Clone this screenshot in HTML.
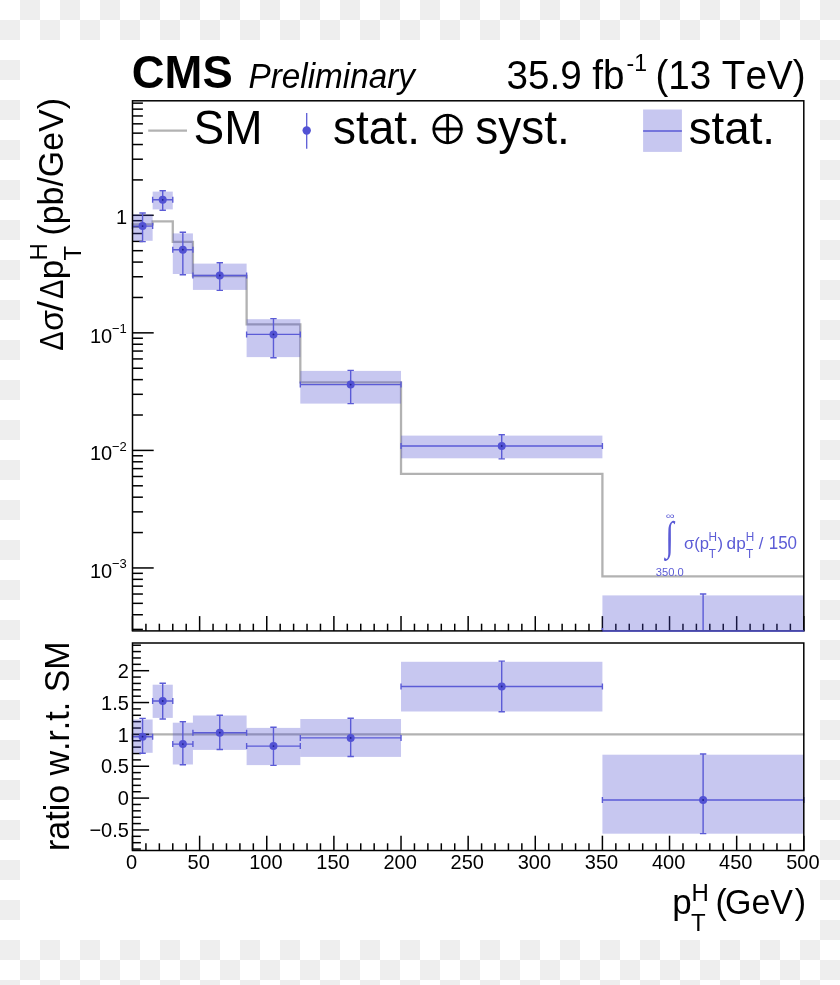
<!DOCTYPE html>
<html lang="en"><head><meta charset="utf-8"><title>CMS Preliminary - differential cross section</title>
<style>
html,body{margin:0;padding:0;}
body{width:840px;height:985px;overflow:hidden;background-color:#fff;
background-image:repeating-conic-gradient(#eeeeee 0% 25%,#ffffff 0% 50%);background-size:40px 40px;background-position:0 0;position:relative;font-family:"Liberation Sans",sans-serif;}
#panel{position:absolute;left:20px;top:40px;width:800px;height:900px;background:#fff;}
svg{position:absolute;left:0;top:0;will-change:transform;}
svg text{font-family:"Liberation Sans",sans-serif;font-kerning:none;}
</style></head><body>
<div id="panel"></div>
<svg width="840" height="985" viewBox="0 0 840 985">
<polyline fill="none" stroke="#b2b2b2" stroke-width="2.3" points="132.5,224.3 152.64,224.3 152.64,221.4 172.78,221.4 172.78,241.9 192.92,241.9 192.92,276 246.62,276 246.62,324.3 300.32,324.3 300.32,382.4 401.02,382.4 401.02,473.9 602.41,473.9 602.41,576.3 803.8,576.3"/>
<line x1="132.5" y1="734.3" x2="804.3" y2="734.3" stroke="#b2b2b2" stroke-width="2.3"/>
<g stroke="#000" stroke-width="1.5">
<line x1="132.5" y1="629.41" x2="142.9" y2="629.41"/>
<line x1="132.5" y1="614.73" x2="142.9" y2="614.73"/>
<line x1="132.5" y1="603.34" x2="142.9" y2="603.34"/>
<line x1="132.5" y1="594.03" x2="142.9" y2="594.03"/>
<line x1="132.5" y1="586.16" x2="142.9" y2="586.16"/>
<line x1="132.5" y1="579.34" x2="142.9" y2="579.34"/>
<line x1="132.5" y1="573.33" x2="142.9" y2="573.33"/>
<line x1="132.5" y1="567.95" x2="153.7" y2="567.95"/>
<line x1="132.5" y1="532.56" x2="142.9" y2="532.56"/>
<line x1="132.5" y1="511.86" x2="142.9" y2="511.86"/>
<line x1="132.5" y1="497.18" x2="142.9" y2="497.18"/>
<line x1="132.5" y1="485.79" x2="142.9" y2="485.79"/>
<line x1="132.5" y1="476.48" x2="142.9" y2="476.48"/>
<line x1="132.5" y1="468.61" x2="142.9" y2="468.61"/>
<line x1="132.5" y1="461.79" x2="142.9" y2="461.79"/>
<line x1="132.5" y1="455.78" x2="142.9" y2="455.78"/>
<line x1="132.5" y1="450.4" x2="153.7" y2="450.4"/>
<line x1="132.5" y1="415.01" x2="142.9" y2="415.01"/>
<line x1="132.5" y1="394.31" x2="142.9" y2="394.31"/>
<line x1="132.5" y1="379.63" x2="142.9" y2="379.63"/>
<line x1="132.5" y1="368.24" x2="142.9" y2="368.24"/>
<line x1="132.5" y1="358.93" x2="142.9" y2="358.93"/>
<line x1="132.5" y1="351.06" x2="142.9" y2="351.06"/>
<line x1="132.5" y1="344.24" x2="142.9" y2="344.24"/>
<line x1="132.5" y1="338.23" x2="142.9" y2="338.23"/>
<line x1="132.5" y1="332.85" x2="153.7" y2="332.85"/>
<line x1="132.5" y1="297.46" x2="142.9" y2="297.46"/>
<line x1="132.5" y1="276.76" x2="142.9" y2="276.76"/>
<line x1="132.5" y1="262.08" x2="142.9" y2="262.08"/>
<line x1="132.5" y1="250.69" x2="142.9" y2="250.69"/>
<line x1="132.5" y1="241.38" x2="142.9" y2="241.38"/>
<line x1="132.5" y1="233.51" x2="142.9" y2="233.51"/>
<line x1="132.5" y1="226.69" x2="142.9" y2="226.69"/>
<line x1="132.5" y1="220.68" x2="142.9" y2="220.68"/>
<line x1="132.5" y1="215.3" x2="153.7" y2="215.3"/>
<line x1="132.5" y1="179.91" x2="142.9" y2="179.91"/>
<line x1="132.5" y1="159.21" x2="142.9" y2="159.21"/>
<line x1="132.5" y1="144.53" x2="142.9" y2="144.53"/>
<line x1="132.5" y1="133.14" x2="142.9" y2="133.14"/>
<line x1="132.5" y1="123.83" x2="142.9" y2="123.83"/>
<line x1="132.5" y1="115.96" x2="142.9" y2="115.96"/>
<line x1="132.5" y1="109.14" x2="142.9" y2="109.14"/>
<line x1="132.5" y1="103.13" x2="142.9" y2="103.13"/>
<line x1="132.5" y1="630.9" x2="132.5" y2="616.1"/>
<line x1="132.5" y1="850.5" x2="132.5" y2="835.7"/>
<line x1="145.93" y1="630.9" x2="145.93" y2="623.7"/>
<line x1="145.93" y1="850.5" x2="145.93" y2="843.3"/>
<line x1="159.35" y1="630.9" x2="159.35" y2="623.7"/>
<line x1="159.35" y1="850.5" x2="159.35" y2="843.3"/>
<line x1="172.78" y1="630.9" x2="172.78" y2="623.7"/>
<line x1="172.78" y1="850.5" x2="172.78" y2="843.3"/>
<line x1="186.2" y1="630.9" x2="186.2" y2="623.7"/>
<line x1="186.2" y1="850.5" x2="186.2" y2="843.3"/>
<line x1="199.63" y1="630.9" x2="199.63" y2="616.1"/>
<line x1="199.63" y1="850.5" x2="199.63" y2="835.7"/>
<line x1="213.06" y1="630.9" x2="213.06" y2="623.7"/>
<line x1="213.06" y1="850.5" x2="213.06" y2="843.3"/>
<line x1="226.48" y1="630.9" x2="226.48" y2="623.7"/>
<line x1="226.48" y1="850.5" x2="226.48" y2="843.3"/>
<line x1="239.91" y1="630.9" x2="239.91" y2="623.7"/>
<line x1="239.91" y1="850.5" x2="239.91" y2="843.3"/>
<line x1="253.33" y1="630.9" x2="253.33" y2="623.7"/>
<line x1="253.33" y1="850.5" x2="253.33" y2="843.3"/>
<line x1="266.76" y1="630.9" x2="266.76" y2="616.1"/>
<line x1="266.76" y1="850.5" x2="266.76" y2="835.7"/>
<line x1="280.19" y1="630.9" x2="280.19" y2="623.7"/>
<line x1="280.19" y1="850.5" x2="280.19" y2="843.3"/>
<line x1="293.61" y1="630.9" x2="293.61" y2="623.7"/>
<line x1="293.61" y1="850.5" x2="293.61" y2="843.3"/>
<line x1="307.04" y1="630.9" x2="307.04" y2="623.7"/>
<line x1="307.04" y1="850.5" x2="307.04" y2="843.3"/>
<line x1="320.46" y1="630.9" x2="320.46" y2="623.7"/>
<line x1="320.46" y1="850.5" x2="320.46" y2="843.3"/>
<line x1="333.89" y1="630.9" x2="333.89" y2="616.1"/>
<line x1="333.89" y1="850.5" x2="333.89" y2="835.7"/>
<line x1="347.32" y1="630.9" x2="347.32" y2="623.7"/>
<line x1="347.32" y1="850.5" x2="347.32" y2="843.3"/>
<line x1="360.74" y1="630.9" x2="360.74" y2="623.7"/>
<line x1="360.74" y1="850.5" x2="360.74" y2="843.3"/>
<line x1="374.17" y1="630.9" x2="374.17" y2="623.7"/>
<line x1="374.17" y1="850.5" x2="374.17" y2="843.3"/>
<line x1="387.59" y1="630.9" x2="387.59" y2="623.7"/>
<line x1="387.59" y1="850.5" x2="387.59" y2="843.3"/>
<line x1="401.02" y1="630.9" x2="401.02" y2="616.1"/>
<line x1="401.02" y1="850.5" x2="401.02" y2="835.7"/>
<line x1="414.45" y1="630.9" x2="414.45" y2="623.7"/>
<line x1="414.45" y1="850.5" x2="414.45" y2="843.3"/>
<line x1="427.87" y1="630.9" x2="427.87" y2="623.7"/>
<line x1="427.87" y1="850.5" x2="427.87" y2="843.3"/>
<line x1="441.3" y1="630.9" x2="441.3" y2="623.7"/>
<line x1="441.3" y1="850.5" x2="441.3" y2="843.3"/>
<line x1="454.72" y1="630.9" x2="454.72" y2="623.7"/>
<line x1="454.72" y1="850.5" x2="454.72" y2="843.3"/>
<line x1="468.15" y1="630.9" x2="468.15" y2="616.1"/>
<line x1="468.15" y1="850.5" x2="468.15" y2="835.7"/>
<line x1="481.58" y1="630.9" x2="481.58" y2="623.7"/>
<line x1="481.58" y1="850.5" x2="481.58" y2="843.3"/>
<line x1="495" y1="630.9" x2="495" y2="623.7"/>
<line x1="495" y1="850.5" x2="495" y2="843.3"/>
<line x1="508.43" y1="630.9" x2="508.43" y2="623.7"/>
<line x1="508.43" y1="850.5" x2="508.43" y2="843.3"/>
<line x1="521.85" y1="630.9" x2="521.85" y2="623.7"/>
<line x1="521.85" y1="850.5" x2="521.85" y2="843.3"/>
<line x1="535.28" y1="630.9" x2="535.28" y2="616.1"/>
<line x1="535.28" y1="850.5" x2="535.28" y2="835.7"/>
<line x1="548.71" y1="630.9" x2="548.71" y2="623.7"/>
<line x1="548.71" y1="850.5" x2="548.71" y2="843.3"/>
<line x1="562.13" y1="630.9" x2="562.13" y2="623.7"/>
<line x1="562.13" y1="850.5" x2="562.13" y2="843.3"/>
<line x1="575.56" y1="630.9" x2="575.56" y2="623.7"/>
<line x1="575.56" y1="850.5" x2="575.56" y2="843.3"/>
<line x1="588.98" y1="630.9" x2="588.98" y2="623.7"/>
<line x1="588.98" y1="850.5" x2="588.98" y2="843.3"/>
<line x1="602.41" y1="630.9" x2="602.41" y2="616.1"/>
<line x1="602.41" y1="850.5" x2="602.41" y2="835.7"/>
<line x1="615.84" y1="630.9" x2="615.84" y2="623.7"/>
<line x1="615.84" y1="850.5" x2="615.84" y2="843.3"/>
<line x1="629.26" y1="630.9" x2="629.26" y2="623.7"/>
<line x1="629.26" y1="850.5" x2="629.26" y2="843.3"/>
<line x1="642.69" y1="630.9" x2="642.69" y2="623.7"/>
<line x1="642.69" y1="850.5" x2="642.69" y2="843.3"/>
<line x1="656.11" y1="630.9" x2="656.11" y2="623.7"/>
<line x1="656.11" y1="850.5" x2="656.11" y2="843.3"/>
<line x1="669.54" y1="630.9" x2="669.54" y2="616.1"/>
<line x1="669.54" y1="850.5" x2="669.54" y2="835.7"/>
<line x1="682.97" y1="630.9" x2="682.97" y2="623.7"/>
<line x1="682.97" y1="850.5" x2="682.97" y2="843.3"/>
<line x1="696.39" y1="630.9" x2="696.39" y2="623.7"/>
<line x1="696.39" y1="850.5" x2="696.39" y2="843.3"/>
<line x1="709.82" y1="630.9" x2="709.82" y2="623.7"/>
<line x1="709.82" y1="850.5" x2="709.82" y2="843.3"/>
<line x1="723.24" y1="630.9" x2="723.24" y2="623.7"/>
<line x1="723.24" y1="850.5" x2="723.24" y2="843.3"/>
<line x1="736.67" y1="630.9" x2="736.67" y2="616.1"/>
<line x1="736.67" y1="850.5" x2="736.67" y2="835.7"/>
<line x1="750.1" y1="630.9" x2="750.1" y2="623.7"/>
<line x1="750.1" y1="850.5" x2="750.1" y2="843.3"/>
<line x1="763.52" y1="630.9" x2="763.52" y2="623.7"/>
<line x1="763.52" y1="850.5" x2="763.52" y2="843.3"/>
<line x1="776.95" y1="630.9" x2="776.95" y2="623.7"/>
<line x1="776.95" y1="850.5" x2="776.95" y2="843.3"/>
<line x1="790.37" y1="630.9" x2="790.37" y2="623.7"/>
<line x1="790.37" y1="850.5" x2="790.37" y2="843.3"/>
<line x1="803.8" y1="630.9" x2="803.8" y2="616.1"/>
<line x1="803.8" y1="850.5" x2="803.8" y2="835.7"/>
<line x1="132.5" y1="849.06" x2="140.9" y2="849.06"/>
<line x1="132.5" y1="842.69" x2="140.9" y2="842.69"/>
<line x1="132.5" y1="836.32" x2="140.9" y2="836.32"/>
<line x1="132.5" y1="829.95" x2="149.1" y2="829.95"/>
<line x1="132.5" y1="823.58" x2="140.9" y2="823.58"/>
<line x1="132.5" y1="817.21" x2="140.9" y2="817.21"/>
<line x1="132.5" y1="810.84" x2="140.9" y2="810.84"/>
<line x1="132.5" y1="804.47" x2="140.9" y2="804.47"/>
<line x1="132.5" y1="798.1" x2="149.1" y2="798.1"/>
<line x1="132.5" y1="791.73" x2="140.9" y2="791.73"/>
<line x1="132.5" y1="785.36" x2="140.9" y2="785.36"/>
<line x1="132.5" y1="778.99" x2="140.9" y2="778.99"/>
<line x1="132.5" y1="772.62" x2="140.9" y2="772.62"/>
<line x1="132.5" y1="766.25" x2="149.1" y2="766.25"/>
<line x1="132.5" y1="759.88" x2="140.9" y2="759.88"/>
<line x1="132.5" y1="753.51" x2="140.9" y2="753.51"/>
<line x1="132.5" y1="747.14" x2="140.9" y2="747.14"/>
<line x1="132.5" y1="740.77" x2="140.9" y2="740.77"/>
<line x1="132.5" y1="734.4" x2="149.1" y2="734.4"/>
<line x1="132.5" y1="728.03" x2="140.9" y2="728.03"/>
<line x1="132.5" y1="721.66" x2="140.9" y2="721.66"/>
<line x1="132.5" y1="715.29" x2="140.9" y2="715.29"/>
<line x1="132.5" y1="708.92" x2="140.9" y2="708.92"/>
<line x1="132.5" y1="702.55" x2="149.1" y2="702.55"/>
<line x1="132.5" y1="696.18" x2="140.9" y2="696.18"/>
<line x1="132.5" y1="689.81" x2="140.9" y2="689.81"/>
<line x1="132.5" y1="683.44" x2="140.9" y2="683.44"/>
<line x1="132.5" y1="677.07" x2="140.9" y2="677.07"/>
<line x1="132.5" y1="670.7" x2="149.1" y2="670.7"/>
<line x1="132.5" y1="664.33" x2="140.9" y2="664.33"/>
<line x1="132.5" y1="657.96" x2="140.9" y2="657.96"/>
<line x1="132.5" y1="651.59" x2="140.9" y2="651.59"/>
<line x1="132.5" y1="645.22" x2="140.9" y2="645.22"/>
</g>
<g fill-opacity="0.31">
<rect x="132.5" y="214.4" width="20.14" height="26.4" fill="#4a4ad0"/>
<rect x="152.64" y="191.6" width="20.14" height="17.8" fill="#4a4ad0"/>
<rect x="172.78" y="233.4" width="20.14" height="40.6" fill="#4a4ad0"/>
<rect x="192.92" y="263.6" width="53.7" height="26.3" fill="#4a4ad0"/>
<rect x="246.62" y="319.2" width="53.7" height="37.9" fill="#4a4ad0"/>
<rect x="300.32" y="370.9" width="100.69" height="32.7" fill="#4a4ad0"/>
<rect x="401.02" y="435.6" width="201.39" height="22.7" fill="#4a4ad0"/>
<rect x="602.41" y="595.4" width="201.39" height="35.5" fill="#4a4ad0"/>
<rect x="132.5" y="719.5" width="20.14" height="33.3" fill="#4a4ad0"/>
<rect x="152.64" y="684.7" width="20.14" height="33.2" fill="#4a4ad0"/>
<rect x="172.78" y="722.7" width="20.14" height="41.8" fill="#4a4ad0"/>
<rect x="192.92" y="715.5" width="53.7" height="34.4" fill="#4a4ad0"/>
<rect x="246.62" y="727.9" width="53.7" height="37.2" fill="#4a4ad0"/>
<rect x="300.32" y="719" width="100.69" height="37.9" fill="#4a4ad0"/>
<rect x="401.02" y="661.8" width="201.39" height="49.7" fill="#4a4ad0"/>
<rect x="602.41" y="754.7" width="201.39" height="79" fill="#4a4ad0"/>
</g>
<clipPath id="cm"><rect x="0" y="0" width="840" height="631.6"/></clipPath>
<g clip-path="url(#cm)">
<g stroke="#5b5bd6" stroke-width="1.4" fill="none">
<path d="M132.5 226.1H152.64M132.5 223.1v6M152.64 223.1v6M142.57 213V241.6M139.37 213h6.4M139.37 241.6h6.4"/>
<path d="M152.64 199.8H172.78M152.64 196.8v6M172.78 196.8v6M162.71 190.8V210.2M159.51 190.8h6.4M159.51 210.2h6.4"/>
<path d="M172.78 249.7H192.92M172.78 246.7v6M192.92 246.7v6M182.85 232.3V274.7M179.65 232.3h6.4M179.65 274.7h6.4"/>
<path d="M192.92 275.5H246.62M192.92 272.5v6M246.62 272.5v6M219.77 262.8V290.4M216.57 262.8h6.4M216.57 290.4h6.4"/>
<path d="M246.62 334.4H300.32M246.62 331.4v6M300.32 331.4v6M273.47 318.6V357.7M270.27 318.6h6.4M270.27 357.7h6.4"/>
<path d="M300.32 384.6H401.02M300.32 381.6v6M401.02 381.6v6M350.67 370.4V403.6M347.47 370.4h6.4M347.47 403.6h6.4"/>
<path d="M401.02 446H602.41M401.02 443v6M602.41 443v6M501.72 434.8V458.9M498.52 434.8h6.4M498.52 458.9h6.4"/>
<path d="M602.41 630.9H803.8M602.41 627.9v6M803.8 627.9v6M703.11 594V630.9M699.9 594h6.4M699.9 630.9h6.4"/>
</g>
<g fill="#5252d4">
<circle cx="142.57" cy="226.1" r="4.0"/>
<circle cx="162.71" cy="199.8" r="4.0"/>
<circle cx="182.85" cy="249.7" r="4.0"/>
<circle cx="219.77" cy="275.5" r="4.0"/>
<circle cx="273.47" cy="334.4" r="4.0"/>
<circle cx="350.67" cy="384.6" r="4.0"/>
<circle cx="501.72" cy="446" r="4.0"/>
</g>
<g fill="#1f1f8c">
<circle cx="142.57" cy="226.1" r="0.9"/>
<circle cx="162.71" cy="199.8" r="0.9"/>
<circle cx="182.85" cy="249.7" r="0.9"/>
<circle cx="219.77" cy="275.5" r="0.9"/>
<circle cx="273.47" cy="334.4" r="0.9"/>
<circle cx="350.67" cy="384.6" r="0.9"/>
<circle cx="501.72" cy="446" r="0.9"/>
</g>
</g>
<g stroke="#5b5bd6" stroke-width="1.4" fill="none">
<path d="M132.5 736.7H152.64M132.5 733.7v6M152.64 733.7v6M142.57 718.4V753.3M139.37 718.4h6.4M139.37 753.3h6.4"/>
<path d="M152.64 701H172.78M152.64 698v6M172.78 698v6M162.71 683.3V719M159.51 683.3h6.4M159.51 719h6.4"/>
<path d="M172.78 744.1H192.92M172.78 741.1v6M192.92 741.1v6M182.85 721.8V764.7M179.65 721.8h6.4M179.65 764.7h6.4"/>
<path d="M192.92 732.7H246.62M192.92 729.7v6M246.62 729.7v6M219.77 715.3V749.5M216.57 715.3h6.4M216.57 749.5h6.4"/>
<path d="M246.62 746.1H300.32M246.62 743.1v6M300.32 743.1v6M273.47 727.2V765.4M270.27 727.2h6.4M270.27 765.4h6.4"/>
<path d="M300.32 737.9H401.02M300.32 734.9v6M401.02 734.9v6M350.67 718.3V756.5M347.47 718.3h6.4M347.47 756.5h6.4"/>
<path d="M401.02 686.5H602.41M401.02 683.5v6M602.41 683.5v6M501.72 661.1V711.8M498.52 661.1h6.4M498.52 711.8h6.4"/>
<path d="M602.41 800H803.8M602.41 797v6M803.8 797v6M703.11 754V833.6M699.9 754h6.4M699.9 833.6h6.4"/>
</g>
<g fill="#5252d4">
<circle cx="142.57" cy="736.7" r="4.0"/>
<circle cx="162.71" cy="701" r="4.0"/>
<circle cx="182.85" cy="744.1" r="4.0"/>
<circle cx="219.77" cy="732.7" r="4.0"/>
<circle cx="273.47" cy="746.1" r="4.0"/>
<circle cx="350.67" cy="737.9" r="4.0"/>
<circle cx="501.72" cy="686.5" r="4.0"/>
<circle cx="703.11" cy="800" r="4.0"/>
</g>
<g fill="#1f1f8c">
<circle cx="142.57" cy="736.7" r="0.9"/>
<circle cx="162.71" cy="701" r="0.9"/>
<circle cx="182.85" cy="744.1" r="0.9"/>
<circle cx="219.77" cy="732.7" r="0.9"/>
<circle cx="273.47" cy="746.1" r="0.9"/>
<circle cx="350.67" cy="737.9" r="0.9"/>
<circle cx="501.72" cy="686.5" r="0.9"/>
<circle cx="703.11" cy="800" r="0.9"/>
</g>
<rect x="132.5" y="100.8" width="671.3" height="530.1" fill="none" stroke="#000" stroke-width="1.5"/>
<rect x="132.5" y="643.0" width="671.3" height="207.5" fill="none" stroke="#000" stroke-width="1.5"/>
<line x1="602.41" y1="630.9" x2="803.8" y2="630.9" stroke="#5b5bd6" stroke-width="1.5"/>
<line x1="148.2" y1="130.6" x2="187" y2="130.6" stroke="#b2b2b2" stroke-width="2.3"/>
<text transform="translate(193.6 144.2) scale(1 1.03)" font-size="46">SM</text>
<line x1="306.7" y1="113" x2="306.7" y2="148.8" stroke="#5b5bd6" stroke-width="1.3"/>
<circle cx="306.7" cy="130.5" r="4.2" fill="#5252d4"/>
<text transform="translate(333 144.2) scale(1 1.03)" font-size="46">stat.</text>
<text x="426.44" y="144.75" font-size="50.56" stroke="#fff" stroke-width="1.1" style="font-family:'DejaVu Serif','DejaVu Sans',serif">⊕</text>
<text transform="translate(475.3 144.2) scale(1 1.03)" font-size="46">syst.</text>
<rect x="643.1" y="109.5" width="38.8" height="42.4" fill="#4a4ad0" fill-opacity="0.31"/>
<line x1="643.1" y1="131" x2="681.9" y2="131" stroke="#5b5bd6" stroke-width="1.3"/>
<text transform="translate(688.7 144.2) scale(1 1.03)" font-size="45.7">stat.</text>
<text transform="translate(131.8 88.1) scale(1 1.01)" font-size="45.4" font-weight="bold">CMS</text>
<text transform="translate(248.5 88.1) scale(1 1.03)" font-size="33.3" font-style="italic">Preliminary</text>
<text transform="translate(506.5 89.2) scale(1 1.03)" font-size="38.6">35.9 fb</text>
<text transform="translate(626.5 71.2) scale(1 1.03)" font-size="23">-1</text>
<text transform="translate(805.5 89.2) scale(1 1.03)" font-size="38.6" text-anchor="end">(13 TeV)</text>
<text transform="translate(131.6 869) scale(1 1.03)" font-size="20" text-anchor="middle">0</text>
<text transform="translate(198.73 869) scale(1 1.03)" font-size="20" text-anchor="middle">50</text>
<text transform="translate(265.86 869) scale(1 1.03)" font-size="20" text-anchor="middle">100</text>
<text transform="translate(332.99 869) scale(1 1.03)" font-size="20" text-anchor="middle">150</text>
<text transform="translate(400.12 869) scale(1 1.03)" font-size="20" text-anchor="middle">200</text>
<text transform="translate(467.25 869) scale(1 1.03)" font-size="20" text-anchor="middle">250</text>
<text transform="translate(534.38 869) scale(1 1.03)" font-size="20" text-anchor="middle">300</text>
<text transform="translate(601.51 869) scale(1 1.03)" font-size="20" text-anchor="middle">350</text>
<text transform="translate(668.64 869) scale(1 1.03)" font-size="20" text-anchor="middle">400</text>
<text transform="translate(735.77 869) scale(1 1.03)" font-size="20" text-anchor="middle">450</text>
<text transform="translate(802.9 869) scale(1 1.03)" font-size="20" text-anchor="middle">500</text>
<text transform="translate(128.9 677.9) scale(1 1.03)" font-size="20" text-anchor="end">2</text>
<text transform="translate(128.9 709.75) scale(1 1.03)" font-size="20" text-anchor="end">1.5</text>
<text transform="translate(128.9 741.6) scale(1 1.03)" font-size="20" text-anchor="end">1</text>
<text transform="translate(128.9 773.45) scale(1 1.03)" font-size="20" text-anchor="end">0.5</text>
<text transform="translate(128.9 805.3) scale(1 1.03)" font-size="20" text-anchor="end">0</text>
<text transform="translate(128.9 837.15) scale(1 1.03)" font-size="20" text-anchor="end">−0.5</text>
<text transform="translate(127.2 223.6) scale(1 1.03)" font-size="20" text-anchor="end">1</text>
<text transform="translate(90 342.65) scale(1 1.03)" font-size="20">10<tspan font-size="13" dy="-9.2" dx="-0.3">−1</tspan></text>
<text transform="translate(90 460.2) scale(1 1.03)" font-size="20">10<tspan font-size="13" dy="-9.2" dx="-0.3">−2</tspan></text>
<text transform="translate(90 577.75) scale(1 1.03)" font-size="20">10<tspan font-size="13" dy="-9.2" dx="-0.3">−3</tspan></text>
<text transform="translate(62.7 350) rotate(-90) translate(-0.87 0) scale(0.855 0.975)" font-size="34">Δ</text>
<text transform="translate(62.7 350) rotate(-90) translate(18.97 0)" font-size="34">σ</text>
<text transform="translate(62.7 350) rotate(-90) translate(38.4 0) scale(1.1 1.03)" font-size="34">/</text>
<text transform="translate(62.7 350) rotate(-90) translate(50.93 0) scale(0.855 0.975)" font-size="34">Δ</text>
<text transform="translate(62.7 350) rotate(-90) translate(70.86 0)" font-size="35">p</text>
<text transform="translate(62.7 350) rotate(-90) translate(89.43 -15.7) scale(1 1.03)" font-size="24">H</text>
<text transform="translate(62.7 350) rotate(-90) translate(89.47 18.4) scale(1 1.03)" font-size="24">T</text>
<text transform="translate(62.7 350) rotate(-90) translate(114.4 0) scale(1 1.03)" font-size="33.9">(pb/GeV)</text>
<text transform="translate(69 851) rotate(-90) scale(1 1.03)" font-size="34">ratio w.r.t. SM</text>
<text transform="translate(0 913.9) translate(672.36 0)" font-size="35">p</text>
<text transform="translate(0 913.9) translate(691.43 -12.5) scale(1 1.03)" font-size="24">H</text>
<text transform="translate(0 913.9) translate(691.07 17.4) scale(1 1.03)" font-size="24">T</text>
<text transform="translate(0 913.9) translate(715.59 0) scale(1 1.03)" font-size="34">(<tspan dx="-1.9">GeV</tspan><tspan dx="1.6">)</tspan></text>
<text transform="translate(670.15 518.8) scale(1 0.72)" font-size="12.6" text-anchor="middle" fill="#5b5bd6">∞</text>
<text transform="translate(665.5 550.1) scale(0.74 1)" font-size="40.9" style="font-family:'Liberation Serif',serif" fill="#5b5bd6">∫</text>
<text transform="translate(655.7 576.2) scale(1 1.03)" font-size="11.2" fill="#5b5bd6">350.0</text>
<text transform="translate(0 549.2) translate(683.9 0)" font-size="16.6" fill="#5b5bd6">σ(p</text>
<text transform="translate(0 549.2) translate(708.53 -8.2) scale(1 1.03)" font-size="11.8" fill="#5b5bd6">H</text>
<text transform="translate(0 549.2) translate(708.74 8.6) scale(1 1.03)" font-size="11.8" fill="#5b5bd6">T</text>
<text transform="translate(0 549.2) translate(717.5 0) scale(1 1.03)" font-size="16.6" fill="#5b5bd6">)</text>
<text transform="translate(0 549.2) translate(726.61 0)" font-size="17.2" fill="#5b5bd6">dp</text>
<text transform="translate(0 549.2) translate(745.73 -8.2) scale(1 1.03)" font-size="11.8" fill="#5b5bd6">H</text>
<text transform="translate(0 549.2) translate(745.94 8.6) scale(1 1.03)" font-size="11.8" fill="#5b5bd6">T</text>
<text transform="translate(0 549.2) translate(758.7 0) scale(1 1.03)" font-size="16.8" fill="#5b5bd6">/</text>
<text transform="translate(0 549.2) translate(768.71 0) scale(1 1.03)" font-size="17" fill="#5b5bd6">150</text>
</svg>
</body></html>
